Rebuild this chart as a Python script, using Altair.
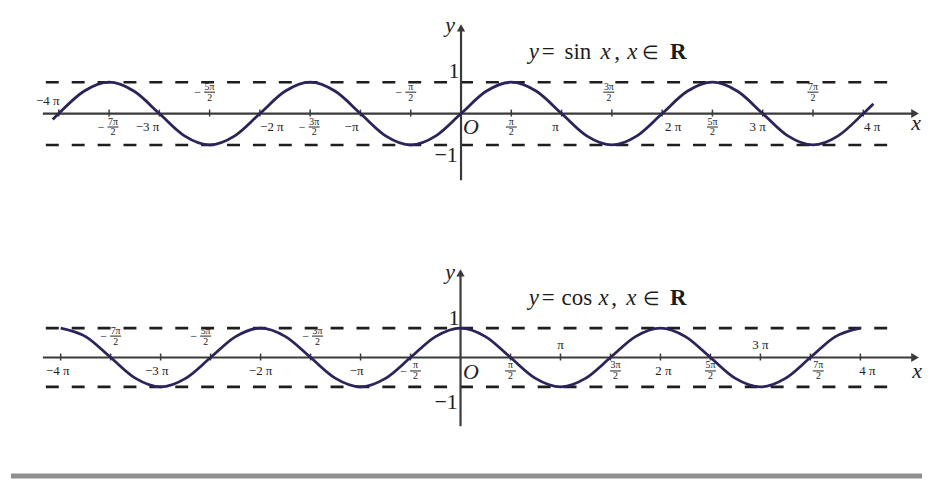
import altair as alt
import pandas as pd

# ---------------- data (x in units of pi) ----------------
sin_x = [-4.06, -4.0, -3.75, -3.5, -3.25, -3.0, -2.75, -2.5, -2.25, -2.0, -1.75, -1.5,
         -1.25, -1.0, -0.75, -0.5, -0.25, 0.0, 0.25, 0.5, 0.75, 1.0, 1.25, 1.5, 1.75,
         2.0, 2.25, 2.5, 2.75, 3.0, 3.25, 3.5, 3.75, 4.0, 4.1]
sin_y = [-0.19, 0.0, 0.71, 1.0, 0.71, 0.0, -0.71, -1.0, -0.71, 0.0, 0.71, 1.0,
         0.71, 0.0, -0.71, -1.0, -0.71, 0.0, 0.71, 1.0, 0.71, 0.0, -0.71, -1.0, -0.71,
         0.0, 0.71, 1.0, 0.71, 0.0, -0.71, -1.0, -0.71, 0.0, 0.31]

cos_x = [-4.0, -3.75, -3.5, -3.25, -3.0, -2.75, -2.5, -2.25, -2.0, -1.75, -1.5,
         -1.25, -1.0, -0.75, -0.5, -0.25, 0.0, 0.25, 0.5, 0.75, 1.0, 1.25, 1.5, 1.75,
         2.0, 2.25, 2.5, 2.75, 3.0, 3.25, 3.5, 3.75, 4.0]
cos_y = [1.0, 0.71, 0.0, -0.71, -1.0, -0.71, 0.0, 0.71, 1.0, 0.71, 0.0,
         -0.71, -1.0, -0.71, 0.0, 0.71, 1.0, 0.71, 0.0, -0.71, -1.0, -0.71, 0.0, 0.71,
         1.0, 0.71, 0.0, -0.71, -1.0, -0.71, 0.0, 0.71, 1.0]

label_pos = [-4, -3.5, -3, -2.5, -2, -1.5, -1, -0.5, 0.5, 1, 1.5, 2, 2.5, 3, 3.5, 4]
label_text = ["−4π", "−7π/2", "−3π", "−5π/2", "−2π", "−3π/2", "−π", "−π/2",
              "π/2", "π", "3π/2", "2π", "5π/2", "3π", "7π/2", "4π"]
sin_label_side = ["above", "below", "below", "above", "below", "below", "below", "above",
                  "below", "below", "above", "below", "below", "below", "above", "below"]
cos_label_side = ["below", "above", "below", "above", "below", "above", "below", "below",
                  "below", "above", "below", "below", "below", "above", "below", "below"]
sin_title = "sin"
cos_title = "cos"

# ---------------- layout / style ----------------
FONT = "Liberation Serif"
INK = "#222222"
AXIS = "#3a3a3a"
CURVE = "#2b2458"

sin_nudge = [-11, 4, -12, 0, 12, 4, -9, 0, 0, -6, -3, 11, 0, -5, 0, 9]
cos_nudge = [-3, 5, -4, -5, 0, 7, -4, 5, 0, 0, 5, 3, 0, 0, 8, 7]


def panel(top, height, ox, oy, ppi, unit, xs, ys, sides, nudge, fn, title_base,
          fn_left, yaxis_bottom, yaxis_tip, annos, band=False):
    X = lambda px: (px - ox) / ppi
    Y = lambda py: (oy - py) / unit
    xsc = alt.Scale(domain=[X(8), X(925)], nice=False, zero=False)
    ysc = alt.Scale(domain=[Y(top + height), Y(top)], nice=False, zero=False)

    def ex(f):
        return alt.X(f, type="quantitative", scale=xsc, axis=None)

    def ey(f):
        return alt.Y(f, type="quantitative", scale=ysc, axis=None)

    layers = []

    # dashed bounds y = 1 and y = -1
    dash_df = pd.DataFrame({"x": [X(45), X(45)], "x2": [X(892), X(892)], "y": [1.0, -1.0]})
    layers.append(alt.Chart(dash_df).mark_rule(strokeDash=[13, 13], strokeWidth=2.6, color="#1e1e1e")
                  .encode(x=ex("x"), x2=alt.X2("x2"), y=ey("y")))

    # x axis
    xa = pd.DataFrame({"x": [X(42)], "x2": [X(918)], "y": [0.0]})
    layers.append(alt.Chart(xa).mark_rule(strokeWidth=2.2, color=AXIS)
                  .encode(x=ex("x"), x2=alt.X2("x2"), y=ey("y")))
    # y axis
    ya = pd.DataFrame({"x": [0.0], "y": [Y(yaxis_bottom)], "y2": [Y(yaxis_tip + 5)]})
    layers.append(alt.Chart(ya).mark_rule(strokeWidth=2.2, color=AXIS)
                  .encode(x=ex("x"), y=ey("y"), y2=alt.Y2("y2")))
    # arrows
    ar = pd.DataFrame({"x": [X(918)], "y": [0.0]})
    layers.append(alt.Chart(ar).mark_point(shape="triangle-right", filled=True, size=80,
                                           color=AXIS, opacity=1)
                  .encode(x=ex("x"), y=ey("y")))
    au = pd.DataFrame({"x": [0.0], "y": [Y(yaxis_tip + 5)]})
    layers.append(alt.Chart(au).mark_point(shape="triangle-up", filled=True, size=70,
                                           color=AXIS, opacity=1)
                  .encode(x=ex("x"), y=ey("y")))

    # ticks
    tk = pd.DataFrame({"x": label_pos, "y": [-3 / unit] * len(label_pos),
                       "y2": [4 / unit] * len(label_pos)})
    layers.append(alt.Chart(tk).mark_rule(strokeWidth=1.5, color=AXIS)
                  .encode(x=ex("x"), y=ey("y"), y2=alt.Y2("y2")))

    # curve
    cv = pd.DataFrame({"x": xs, "y": ys})
    layers.append(alt.Chart(cv).mark_line(interpolate="monotone", strokeWidth=2.8, color=CURVE)
                  .encode(x=ex("x"), y=ey("y")))

    # tick labels
    rows, bars = [], []
    for p, t, s, n in zip(label_pos, label_text, sides, nudge):
        xc = p + n / ppi
        neg = t.startswith("−")
        body = t[1:] if neg else t
        if "/" in body:
            num, den = body.split("/")
            if s == "below":
                ny, by, dy = 8, 13.5, 19
            else:
                ny, by, dy = -27, -21.5, -16
            rows.append(dict(x=xc, y=-ny / unit, t=num, s=10))
            rows.append(dict(x=xc, y=-dy / unit, t=den, s=10))
            bars.append(dict(x=xc - 5.5 / ppi, x2=xc + 5.5 / ppi, y=-by / unit))
            if neg:
                rows.append(dict(x=xc - 12 / ppi, y=-by / unit, t="−", s=12))
        else:
            off = 14 if s == "below" else -13
            txt = t.replace("π", " π") if len(body) > 1 else t
            rows.append(dict(x=xc, y=-off / unit, t=txt, s=13))
    layers.append(alt.Chart(pd.DataFrame(rows)).mark_text(font=FONT, color=INK, baseline="middle")
                  .encode(x=ex("x"), y=ey("y"), text=alt.Text("t:N"),
                          size=alt.Size("s:Q", scale=None)))
    layers.append(alt.Chart(pd.DataFrame(bars)).mark_rule(strokeWidth=1, color=INK)
                  .encode(x=ex("x"), x2=alt.X2("x2"), y=ey("y")))

    # axis annotations (1, -1, y, O, x)
    for style in ["normal", "italic"]:
        a = [dict(x=X(px), y=Y(py), t=t) for (t, px, py, st) in annos if st == style]
        layers.append(alt.Chart(pd.DataFrame(a)).mark_text(font=FONT, fontSize=22, color=INK,
                                                         fontStyle=style, baseline="middle")
                      .encode(x=ex("x"), y=ey("y"), text=alt.Text("t:N")))

    # formula title pieces
    pieces = [("y", fn_left[0], "italic", "normal", 23), ("=", fn_left[1], "normal", "normal", 23),
              (fn, fn_left[2], "normal", "normal", 23), ("x", fn_left[3], "italic", "normal", 23),
              (",", fn_left[4], "normal", "normal", 23), ("x", fn_left[5], "italic", "normal", 23),
              ("∈", fn_left[6], "normal", "normal", 19), ("R", fn_left[7], "normal", "bold", 23)]
    for style in ["normal", "italic"]:
        for weight in ["normal", "bold"]:
            a = [dict(x=X(px), y=Y(title_base), t=t, s=sz) for (t, px, st, wt, sz) in pieces
                 if st == style and wt == weight]
            if not a:
                continue
            layers.append(alt.Chart(pd.DataFrame(a)).mark_text(
                font=FONT, color="#1c1c1c", fontStyle=style, fontWeight=weight,
                align="left", baseline="alphabetic")
                .encode(x=ex("x"), y=ey("y"), text=alt.Text("t:N"),
                        size=alt.Size("s:Q", scale=None)))

    if band:
        bd = pd.DataFrame({"x": [X(10)], "x2": [X(925)], "y": [Y(top + height - 3)]})
        layers.append(alt.Chart(bd).mark_rule(strokeWidth=5, color="#8f8f8f")
                      .encode(x=ex("x"), x2=alt.X2("x2"), y=ey("y")))

    return alt.layer(*layers).properties(width=917, height=height)


top_chart = panel(top=8, height=222, ox=462, oy=113, ppi=101, unit=31.5,
                  xs=sin_x, ys=sin_y, sides=sin_label_side, nudge=sin_nudge,
                  fn=sin_title, title_base=58,
                  fn_left=[530, 543, 566, 602, 616, 629, 644, 672],
                  yaxis_bottom=180, yaxis_tip=22,
                  annos=[("1", 455, 70, "normal"), ("−1", 447, 155, "normal"),
                         ("y", 451, 24, "italic"), ("O", 472, 127, "italic"),
                         ("x", 919, 123, "italic")])

bottom_chart = panel(top=238, height=242, ox=461.5, oy=358, ppi=100.4, unit=29.5,
                     xs=cos_x, ys=cos_y, sides=cos_label_side, nudge=cos_nudge,
                     fn=cos_title, title_base=305,
                     fn_left=[530, 543, 563, 600, 613, 628, 645, 672],
                     yaxis_bottom=427, yaxis_tip=268,
                     annos=[("1", 455, 318, "normal"), ("−1", 447, 403, "normal"),
                            ("y", 451, 272, "italic"), ("O", 472, 373, "italic"),
                            ("x", 920, 372, "italic")],
                     band=True)

chart = (alt.vconcat(top_chart, bottom_chart, spacing=8)
         .resolve_scale(x="independent", y="independent")
         .configure_view(strokeWidth=0)
         .properties(padding=0, background="white"))

chart.save("out.html", embed_options={"renderer": "svg", "actions": False})
